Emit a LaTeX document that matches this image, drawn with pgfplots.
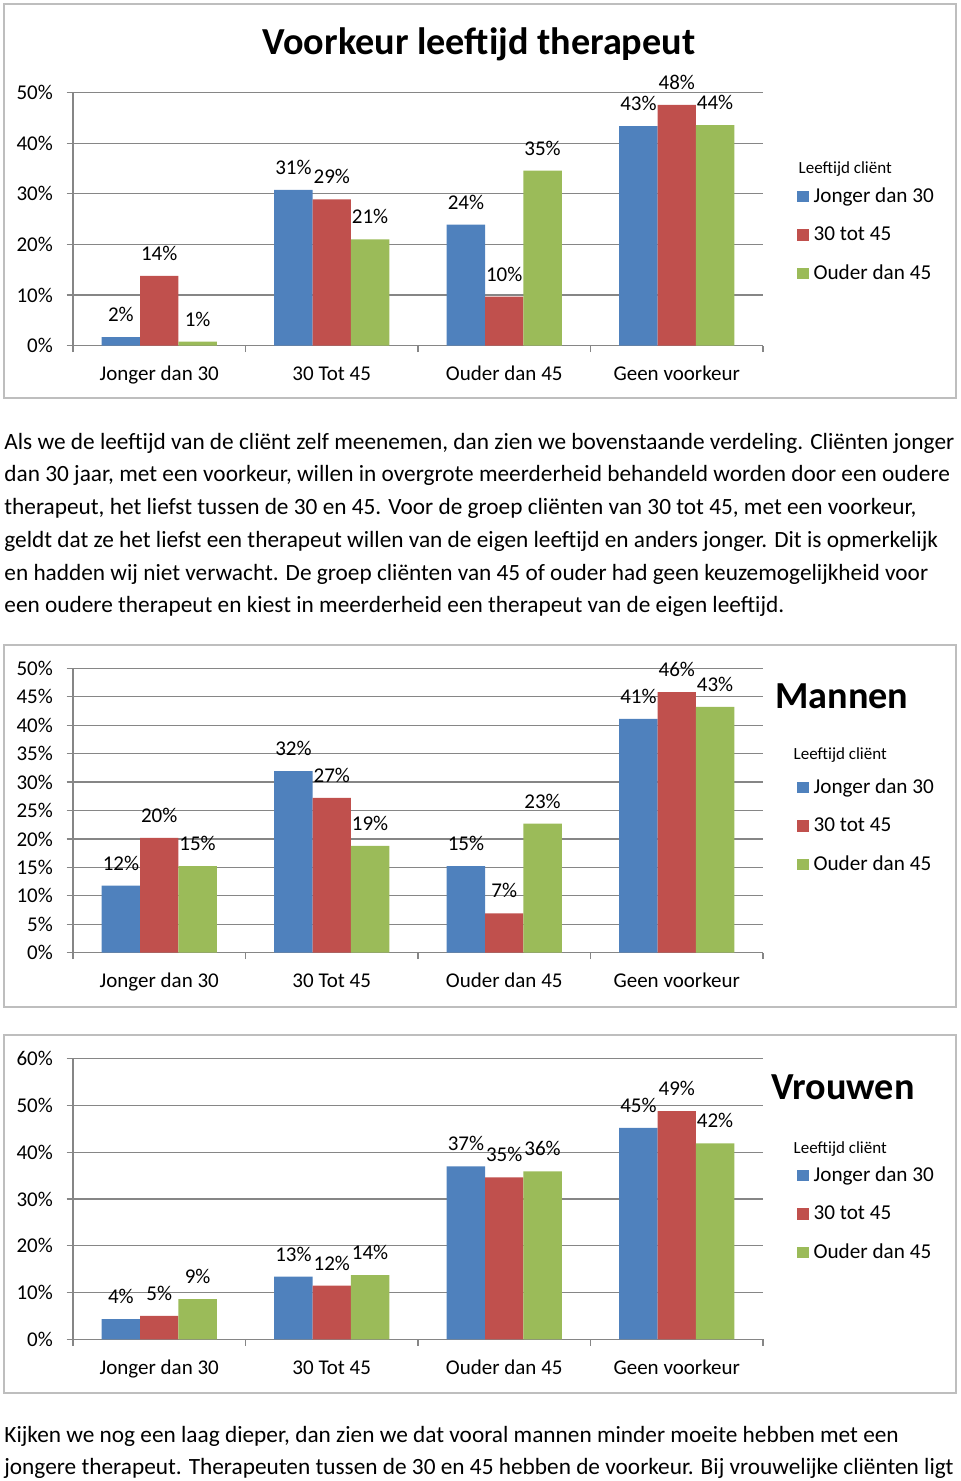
\documentclass[border=0pt]{standalone}
\usepackage{fontspec}
\setmainfont{Carlito}
\usepackage{pgfplots}
\pgfplotsset{compat=1.18}
\definecolor{cblue}{HTML}{4F81BD}
\definecolor{cred}{HTML}{C0504D}
\definecolor{cgreen}{HTML}{9BBB59}
\definecolor{gridgray}{HTML}{868686}
\definecolor{framegray}{HTML}{BEBEBE}
\pgfkeys{/pgf/number format/assume math mode=true}
\newcommand{\lbl}{\fontsize{10.5}{12}\selectfont}
\newcommand{\ptxt}{\fontsize{11.65}{14}\selectfont}
\newcommand{\ttl}{\fontsize{19.1}{22}\selectfont\bfseries}
\newcommand{\ltt}{\fontsize{8.5}{10}\selectfont}
\pgfplotsset{
 mybars/.style={
  scale only axis, width=345pt,
  xmin=-0.5, xmax=3.5, ymin=0,
  ybar=0pt, bar width=19.17pt,
  every axis plot/.append style={draw=none,
    legend image code/.code={\fill[##1,draw=none] (0pt,0pt) rectangle (5.75pt,5.75pt);}},
  xtick={-0.5,0.5,1.5,2.5,3.5},
  xticklabels={Jonger dan 30,30 Tot 45,Ouder dan 45,Geen voorkeur,{}},
  axis x line*=bottom, axis y line*=left,
  ymajorgrids,
  major grid style={draw=gridgray, line width=0.6pt},
  axis line style={draw=gridgray, line width=0.6pt, -},
  tick style={draw=gridgray, line width=0.6pt},
  tick align=outside,
  major tick length=3.25pt,
  yticklabel={\pgfmathprintnumber{\tick}\%},
  ticklabel style={font=\lbl, text=black},
  yticklabel style={inner sep=0pt, xshift=-6.6pt},
  xticklabel style={anchor=base, inner sep=0pt, xshift=43.125pt, yshift=-14.4pt},
  nodes near coords={\pgfmathprintnumber[fixed,precision=0]{\pgfplotspointmeta}\%},
  every node near coord/.append style={font=\lbl, anchor=base, yshift=7.75pt, inner sep=0pt, text=black},
  legend style={draw=none, fill=none, inner sep=0pt, anchor=north west,
    font=\fontsize{10.6}{12}\selectfont, column sep=2.5pt, row sep=0pt,
    cells={anchor=base west},
    nodes={inner sep=0pt, text height=13pt, text depth=6.25pt}},
  clip=false,
 }
}
\begin{document}
\begin{tikzpicture}
\useasboundingbox (0,0) rectangle (480pt,740.5pt);
% frames
\draw[framegray, line width=1pt] (2pt,738.5pt) rectangle (478pt,541.5pt);
\draw[framegray, line width=1pt] (2pt,418pt) rectangle (478pt,237pt);
\draw[framegray, line width=1pt] (2pt,223pt) rectangle (478pt,44pt);

% ---------- chart 1 ----------
\begin{axis}[mybars, at={(36.5pt,567.65pt)}, anchor=south west,
  height=126.5pt, ymax=50, ytick={0,10,20,30,40,50},
  legend style={at={(1.0488,0.672)}}]
\addplot[fill=cblue] coordinates {(0,1.7) (1,30.8) (2,23.9) (3,43.4)};
\addlegendentry{Jonger dan 30}
\addplot[fill=cred] coordinates {(0,13.8) (1,28.9) (2,9.7) (3,47.6)};
\addlegendentry{30 tot 45}
\addplot[fill=cgreen] coordinates {(0,0.8) (1,21.0) (2,34.6) (3,43.6)};
\addlegendentry{Ouder dan 45}
\end{axis}
\node[anchor=base, inner sep=0pt, font=\ttl] at (239.5pt,713pt) {Voorkeur leeftijd therapeut};
\node[anchor=base west, inner sep=0pt, font=\ltt] at (399.15pt,653.85pt) {Leeftijd cliënt};

% ---------- paragraph 1 ----------
\begin{scope}[every node/.style={anchor=base west, inner sep=0pt, font=\ptxt}]
\node at (2pt,515.85pt) {Als we de leeftijd van de cliënt zelf meenemen, dan zien we bovenstaande verdeling. Cliënten jonger};
\node at (2pt,499.5pt) {dan 30 jaar, met een voorkeur, willen in overgrote meerderheid behandeld worden door een oudere};
\node at (2pt,483.15pt) {therapeut, het liefst tussen de 30 en 45. Voor de groep cliënten van 30 tot 45, met een voorkeur,};
\node at (2pt,466.8pt) {geldt dat ze het liefst een therapeut willen van de eigen leeftijd en anders jonger. Dit is opmerkelijk};
\node at (2pt,450.45pt) {en hadden wij niet verwacht. De groep cliënten van 45 of ouder had geen keuzemogelijkheid voor};
\node at (2pt,434.1pt) {een oudere therapeut en kiest in meerderheid een therapeut van de eigen leeftijd.};
\end{scope}

% ---------- chart 2 ----------
\begin{axis}[mybars, at={(36.5pt,264.15pt)}, anchor=south west,
  height=142.2pt, ymax=50, ytick={0,5,...,50},
  legend style={at={(1.0488,0.654)}}]
\addplot[fill=cblue] coordinates {(0,11.8) (1,31.9) (2,15.2) (3,41.1)};
\addlegendentry{Jonger dan 30}
\addplot[fill=cred] coordinates {(0,20.2) (1,27.2) (2,6.9) (3,45.8)};
\addlegendentry{30 tot 45}
\addplot[fill=cgreen] coordinates {(0,15.2) (1,18.8) (2,22.7) (3,43.2)};
\addlegendentry{Ouder dan 45}
\end{axis}
\node[anchor=base west, inner sep=0pt, font=\ttl] at (387.5pt,386.35pt) {Mannen};
\node[anchor=base west, inner sep=0pt, font=\ltt] at (396.65pt,360.5pt) {Leeftijd cliënt};

% ---------- chart 3 ----------
\begin{axis}[mybars, at={(36.5pt,70.85pt)}, anchor=south west,
  height=140.3pt, ymax=60, ytick={0,10,...,60},
  legend style={at={(1.0488,0.658)}}]
\addplot[fill=cblue] coordinates {(0,4.3) (1,13.4) (2,37.0) (3,45.2)};
\addlegendentry{Jonger dan 30}
\addplot[fill=cred] coordinates {(0,5.0) (1,11.5) (2,34.6) (3,48.8)};
\addlegendentry{30 tot 45}
\addplot[fill=cgreen] coordinates {(0,8.6) (1,13.7) (2,35.9) (3,41.9)};
\addlegendentry{Ouder dan 45}
\end{axis}
\node[anchor=base west, inner sep=0pt, font=\ttl] at (385.35pt,190.85pt) {Vrouwen};
\node[anchor=base west, inner sep=0pt, font=\ltt] at (396.65pt,163.5pt) {Leeftijd cliënt};

% ---------- paragraph 2 ----------
\begin{scope}[every node/.style={anchor=base west, inner sep=0pt, font=\ptxt}]
\node at (2pt,19.5pt) {Kijken we nog een laag dieper, dan zien we dat vooral mannen minder moeite hebben met een};
\node at (2pt,3pt) {jongere therapeut. Therapeuten tussen de 30 en 45 hebben de voorkeur. Bij vrouwelijke cliënten ligt};
\end{scope}
\end{tikzpicture}
\end{document}
